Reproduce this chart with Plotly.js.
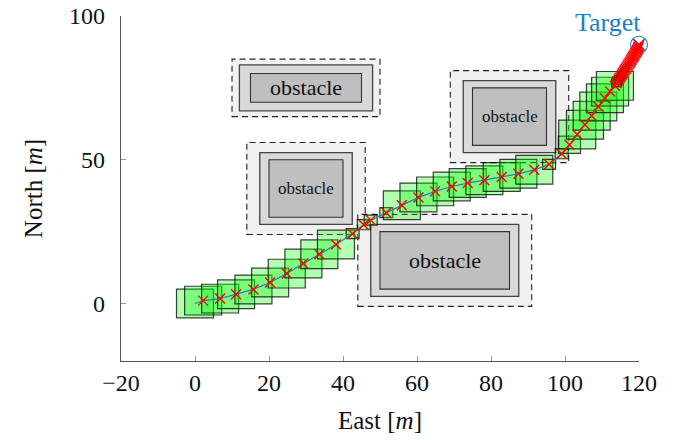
<!DOCTYPE html>
<html>
<head>
<meta charset="utf-8">
<script src="https://cdn.plot.ly/plotly-3.0.1.min.js"></script>
<style>html,body{margin:0;padding:0;background:#fff;}#chart{width:678px;height:440px;}</style>
</head>
<body>
<div id="chart"></div>
<script>
// ---- Path (east, north) and square footprint size at each point ----
const pathX = [0, 2.2, 6.8, 11.1, 15.8, 20.3, 24.8, 29.3, 33.6, 38.1, 42.6, 45.6, 47.5, 51.7, 55.9, 60.4, 64.9, 69.4, 73.7, 78.2, 82.9, 87.4, 91.7, 95.7, 99.1, 101.2, 103.3, 105.4, 107.2, 109.0, 110.8, 112.2, 113.5,
  113.9, 114.2, 114.5, 114.8, 115.1, 115.4, 115.6, 115.9, 116.1, 116.4, 116.6, 116.9, 117.1, 117.4, 117.6, 117.8, 118.0, 118.2, 118.4, 118.6, 118.8, 119.0, 119.2, 119.4, 119.5, 119.7, 119.8, 119.9, 120.0];
const pathY = [0, 1.0, 1.7, 3.2, 4.9, 7.3, 10.4, 13.9, 17.1, 20.5, 24.3, 27.4, 29.0, 31.6, 34.2, 36.9, 39.0, 40.7, 41.9, 42.9, 44.0, 45.1, 46.5, 48.4, 52.1, 55.2, 58.8, 62.2, 65.3, 68.5, 71.4, 73.7, 75.7,
  76.7, 77.3, 77.9, 78.5, 79.0, 79.6, 80.1, 80.6, 81.1, 81.6, 82.1, 82.6, 83.1, 83.6, 84.0, 84.5, 84.9, 85.4, 85.8, 86.2, 86.6, 87.0, 87.4, 87.8, 88.2, 88.6, 89.0, 89.4, 90.0];
const boxSize = [10, 10, 10, 10, 10, 10, 10, 10, 10, 10, 3.5, 3.5, 3.5, 3.5, 10, 10, 10, 10, 10, 10, 10, 10, 10, 3.5, 3.5, 6, 10, 10, 10, 10, 10, 10, 10,
  2.6, 2.4, 2.2, 2.1, 2.0, 1.9, 1.8, 1.7, 1.6, 1.5, 1.4, 1.3, 1.2, 1.1, 1.0, 1.0, 0.9, 0.9, 0.8, 0.8, 0.7, 0.7, 0.6, 0.6, 0.5, 0.5, 0.4, 0.4, 0.3];

// ---- Target ----
const targetX = [120];
const targetY = [90];
const targetLabel = "Target";

// ---- Obstacles (inner rectangles) ----
const obsX0 = [15, 20, 75, 50];
const obsX1 = [45, 40, 95, 85];
const obsY0 = [70, 30, 55, 5];
const obsY1 = [80, 50, 75, 25];
const obsMid = [3, 2.5, 2.5, 2.5];      // inflated boundary
const obsSafe = [5, 6, 6, 6];           // safety region (dashed)
const obsLabel = ["obstacle", "obstacle", "obstacle", "obstacle"];
const obsFont = [22, 17, 17, 22];

// ---- Axes ----
const xTicks = [-20, 0, 20, 40, 60, 80, 100, 120];
const yTicks = [0, 50, 100];

const serif = "Liberation Serif, DejaVu Serif, serif";
const shapes = [];
const annotations = [];

for (let i = 0; i < obsX0.length; i++) {
  shapes.push({type: 'rect', layer: 'below', xref: 'x', yref: 'y',
    x0: obsX0[i] - obsSafe[i], x1: obsX1[i] + obsSafe[i], y0: obsY0[i] - obsSafe[i], y1: obsY1[i] + obsSafe[i],
    fillcolor: '#f0f0f0', line: {color: '#222', width: 1.1, dash: '6px,4px'}});
  shapes.push({type: 'rect', layer: 'below', xref: 'x', yref: 'y',
    x0: obsX0[i] - obsMid[i], x1: obsX1[i] + obsMid[i], y0: obsY0[i] - obsMid[i], y1: obsY1[i] + obsMid[i],
    fillcolor: '#d9d9d9', line: {color: '#444', width: 1.3}});
  shapes.push({type: 'rect', layer: 'below', xref: 'x', yref: 'y',
    x0: obsX0[i], x1: obsX1[i], y0: obsY0[i], y1: obsY1[i],
    fillcolor: '#bfbfbf', line: {color: '#333', width: 1.1}});
  annotations.push({x: (obsX0[i] + obsX1[i]) / 2, y: (obsY0[i] + obsY1[i]) / 2, xref: 'x', yref: 'y',
    text: obsLabel[i], showarrow: false, font: {family: serif, size: obsFont[i], color: '#111'}});
}

for (let i = 0; i < pathX.length; i++) {
  const h = boxSize[i] / 2;
  shapes.push({type: 'rect', layer: 'below', xref: 'x', yref: 'y',
    x0: pathX[i] - h, x1: pathX[i] + h, y0: pathY[i] - h, y1: pathY[i] + h,
    fillcolor: 'rgba(0,255,0,0.3)', line: {color: 'rgba(0,0,0,0.75)', width: 1.2}});
}

annotations.push({x: targetX[0], y: targetY[0] + 2.0, xref: 'x', yref: 'y', xanchor: 'right', yanchor: 'bottom', xshift: 4,
  text: targetLabel, showarrow: false, font: {family: serif, size: 26, color: '#1f7fc4'}});

const traces = [
  {x: targetX, y: targetY, type: 'scatter', mode: 'markers', cliponaxis: false, hoverinfo: 'skip',
    marker: {symbol: 'circle-x-open', size: 17, color: '#1f7fc4', line: {color: '#1f7fc4', width: 1.1}}},
  {x: pathX, y: pathY, type: 'scatter', mode: 'lines', line: {color: '#1f7fc4', width: 1.2}, cliponaxis: false, hoverinfo: 'skip'},
  {x: pathX.slice(1), y: pathY.slice(1), type: 'scatter', mode: 'markers', cliponaxis: false,
    marker: {symbol: 'x-thin-open', size: 10, color: 'red', line: {color: 'red', width: 1.4}}}
];

const layout = {
  width: 678, height: 440,
  margin: {l: 121, r: 39, t: 16, b: 79},
  paper_bgcolor: '#fff', plot_bgcolor: '#fff',
  showlegend: false,
  font: {family: serif, color: '#111'},
  xaxis: {range: [-20, 120], tickvals: xTicks, ticktext: xTicks.map(v => v < 0 ? '\u2212' + Math.abs(v) : String(v)),
    ticks: 'inside', ticklen: 5, tickcolor: '#999', tickwidth: 1, ticklabelstandoff: 0,
    showline: true, linecolor: '#555', linewidth: 1.2, showgrid: false, zeroline: false,
    tickfont: {family: serif, size: 24, color: '#111'},
    title: {text: 'East [<i>m</i>]', font: {family: serif, size: 25, color: '#111'}, standoff: 16}},
  yaxis: {range: [-20, 100], tickvals: yTicks, ticktext: yTicks.map(String),
    ticks: 'inside', ticklen: 5, tickcolor: '#999', tickwidth: 1, ticklabelstandoff: 10,
    showline: true, linecolor: '#555', linewidth: 1.2, showgrid: false, zeroline: false,
    tickfont: {family: serif, size: 24, color: '#111'},
    title: {text: 'North [<i>m</i>]', font: {family: serif, size: 25, color: '#111'}, standoff: 19}},
  shapes: shapes,
  annotations: annotations
};

Plotly.newPlot('chart', traces, layout, {staticPlot: true, displayModeBar: false});
</script>
</body>
</html>
